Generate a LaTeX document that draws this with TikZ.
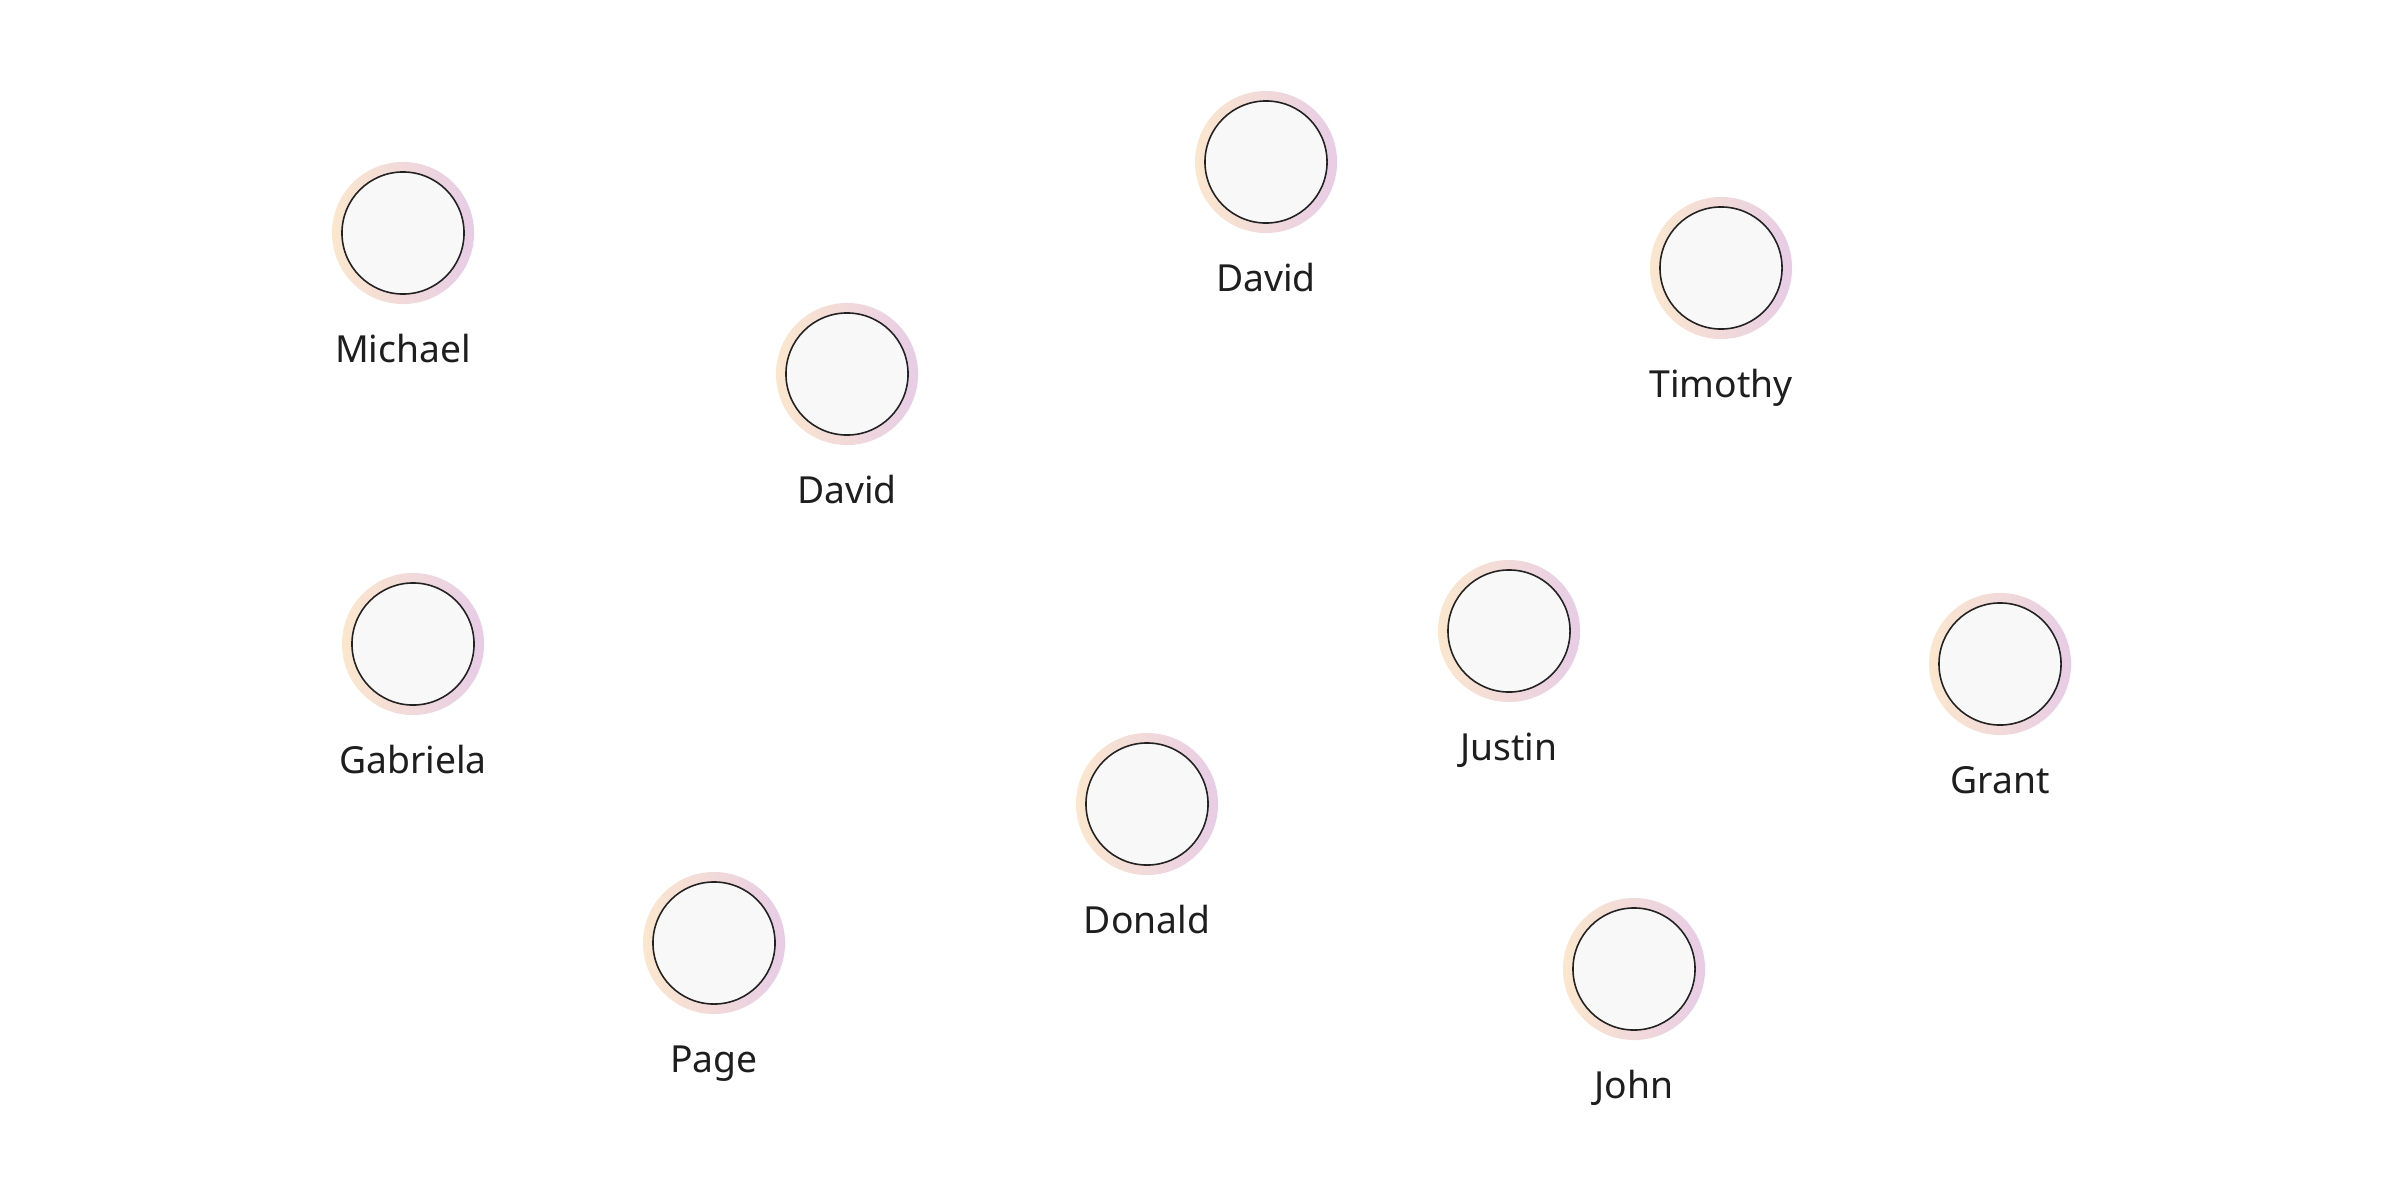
\documentclass[tikz,border=0pt]{standalone}
\usepackage{fontspec}
\setmainfont{Noto Sans}
\definecolor{ringL}{HTML}{FBE7CE}
\definecolor{ringM}{HTML}{F3D3DB}
\definecolor{ringR}{HTML}{E7CCE6}
\definecolor{discfill}{HTML}{F8F8F8}
\definecolor{disclin}{HTML}{222222}
\definecolor{labtxt}{HTML}{1E1E1E}
\tikzset{
  disc/.style={circle, minimum size=1.22cm, inner sep=0pt, outer sep=0pt, fill=discfill, draw=disclin, line width=0.45pt},
  ringshade/.style={left color=ringL, middle color=ringM, right color=ringR},
  namelabel/.style={anchor=base, inner sep=0pt, text=labtxt, font=\fontsize{10.6pt}{12pt}\selectfont}
}
\newcommand{\personnode}[4]{%
  \shade[ringshade] (#2,#3) circle (0.71cm);
  \node[disc] (#1) at (#2,#3) {};
  \node[namelabel] (#1-label) at ($(#1)+(0,129)$) {#4};
}
\usetikzlibrary{calc}
\begin{document}
\begin{tikzpicture}[x=0.01cm,y=-0.01cm]
\useasboundingbox (0,0) rectangle (2400,1200);
\personnode{michael}{403}{233}{Michael}
\personnode{davidA}{1266}{162}{David}
\personnode{timothy}{1721}{268}{Timothy}
\personnode{davidB}{847}{374}{David}
\personnode{gabriela}{413}{644}{Gabriela}
\personnode{justin}{1509}{631}{Justin}
\personnode{grant}{2000}{664}{Grant}
\personnode{donald}{1147}{804}{Donald}
\personnode{page}{714}{943}{Page}
\personnode{john}{1634}{969}{John}
\end{tikzpicture}
\end{document}
